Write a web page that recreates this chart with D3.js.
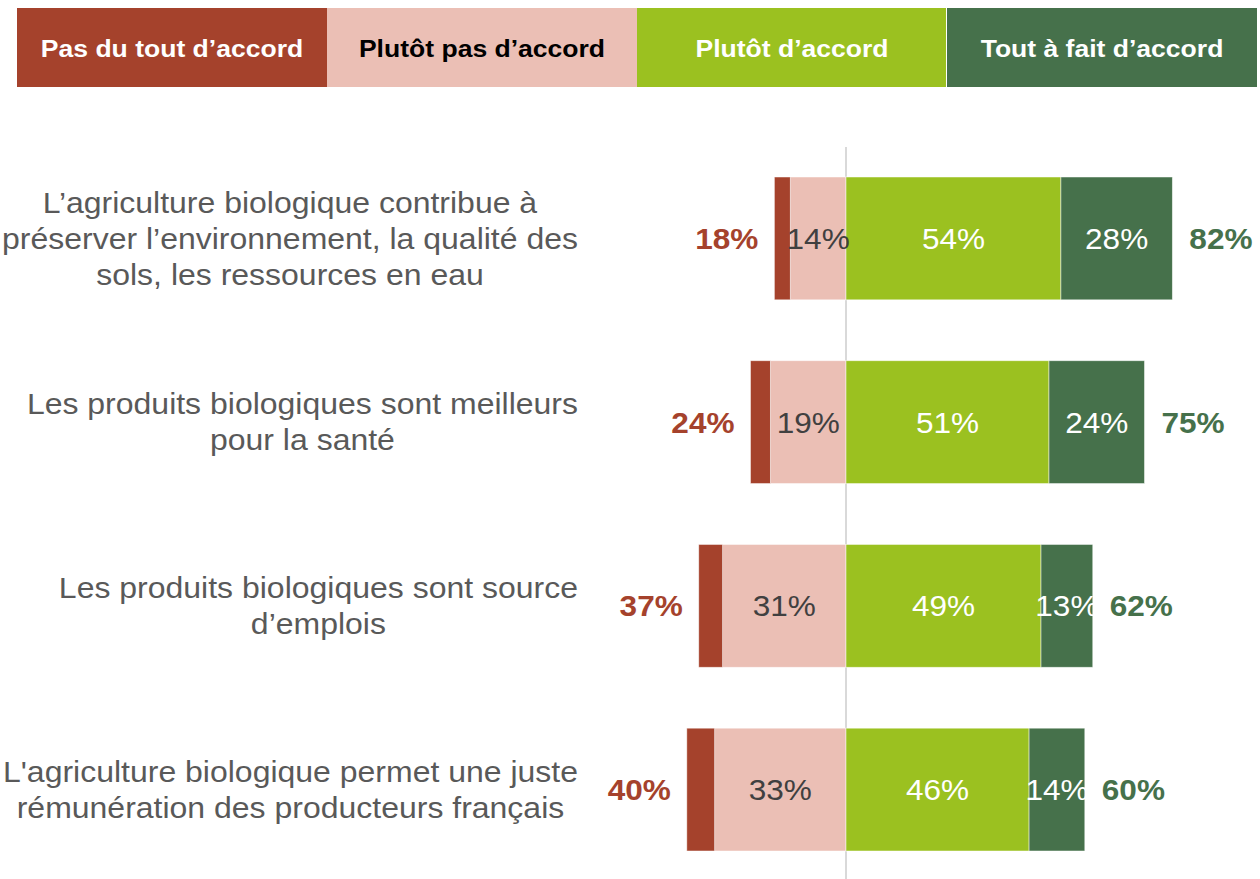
<!DOCTYPE html>
<html><head><meta charset="utf-8">
<script src="https://cdn.jsdelivr.net/npm/d3@7"></script>
<style>
html,body{margin:0;padding:0;background:#fff;}
svg{display:block;font-family:"Liberation Sans",Arial,sans-serif;}
</style></head>
<body>
<svg id="chart" width="1260" height="879"></svg>
<script>
// ---- data ----
const categories = [
  ["L’agriculture biologique contribue à", "préserver l’environnement, la qualité des", "sols, les ressources en eau"],
  ["Les produits biologiques sont meilleurs", "pour la santé"],
  ["Les produits biologiques sont source", "d’emplois"],
  ["L'agriculture biologique permet une juste", "rémunération des producteurs français"]
];
const pasDuTout     = [4, 5, 6, 7];
const plutotPas     = [14, 19, 31, 33];
const plutotAccord  = [54, 51, 49, 46];
const toutAFait     = [28, 24, 13, 14];
const totalDesaccord = [18, 24, 37, 40];
const totalAccord    = [82, 75, 62, 60];
const legendLabels = ["Pas du tout d’accord", "Plutôt pas d’accord", "Plutôt d’accord", "Tout à fait d’accord"];

// ---- styles ----
const colors = ["#A5422C", "#EBBFB5", "#9BC120", "#46714B"];
const legendText = ["#ffffff", "#000000", "#ffffff", "#ffffff"];
const segText = [null, "#404040", "#ffffff", "#ffffff"];
const SX = 1.07; // horizontal stretch of text seen in reference

const svg = d3.select("#chart");
const W = 1260, H = 879;
const place = (sel, fx, fy) => sel.attr("transform", (d, i) => `translate(${fx(d, i)},${fy(d, i)}) scale(${SX},1)`);

// scales
const x = d3.scaleLinear().domain([-50, 100]).range([846 - 199, 846 + 398]);
const idx = categories.map((d, i) => i);
const y = d3.scaleBand().domain(idx).range([177, 851]).paddingInner(0.3315).paddingOuter(0);

// legend
const lx = d3.scaleBand().domain(d3.range(4)).range([17, 1257]);
const leg = svg.append("g");
leg.selectAll("rect").data(legendLabels).join("rect")
  .attr("x", (d, i) => lx(i)).attr("y", 8)
  .attr("width", (d, i) => lx.bandwidth() - (i === 2 ? 1 : 0)).attr("height", 79)
  .attr("fill", (d, i) => colors[i]);
place(leg.selectAll("text").data(legendLabels).join("text"),
      (d, i) => lx(i) + lx.bandwidth() / 2, () => 48)
  .attr("text-anchor", "middle").attr("dominant-baseline", "central")
  .attr("font-size", 24.8).attr("font-weight", "bold")
  .attr("fill", (d, i) => legendText[i]).text(d => d);

// center line
svg.append("line").attr("x1", x(0)).attr("x2", x(0)).attr("y1", 147).attr("y2", H)
  .attr("stroke", "#d9d9d9").attr("stroke-width", 2);

// segments
const segs = [];
idx.forEach(i => {
  segs.push({i, k: 1, x0: -plutotPas[i], x1: 0, v: plutotPas[i]});
  segs.push({i, k: 0, x0: -plutotPas[i] - pasDuTout[i], x1: -plutotPas[i], v: pasDuTout[i]});
  segs.push({i, k: 2, x0: 0, x1: plutotAccord[i], v: plutotAccord[i]});
  segs.push({i, k: 3, x0: plutotAccord[i], x1: plutotAccord[i] + toutAFait[i], v: toutAFait[i]});
});
svg.append("g").selectAll("rect").data(segs).join("rect")
  .attr("x", d => x(d.x0)).attr("width", d => x(d.x1) - x(d.x0))
  .attr("y", d => y(d.i)).attr("height", y.bandwidth())
  .attr("fill", d => colors[d.k])
  .attr("stroke", "#ffffff").attr("stroke-opacity", 0.6).attr("stroke-width", 0.8);

place(svg.append("g").selectAll("text").data(segs.filter(d => d.k !== 0)).join("text"),
      d => (x(d.x0) + x(d.x1)) / 2, d => y(d.i) + y.bandwidth() / 2)
  .attr("text-anchor", "middle").attr("dominant-baseline", "central")
  .attr("font-size", 29.5).attr("fill", d => segText[d.k])
  .text(d => d.v + "%");

// totals
place(svg.append("g").selectAll("text").data(idx).join("text"),
      i => x(-totalDesaccord[i]) - 16, i => y(i) + y.bandwidth() / 2)
  .attr("text-anchor", "end").attr("dominant-baseline", "central")
  .attr("font-size", 29.5).attr("font-weight", "bold").attr("fill", colors[0])
  .text(i => totalDesaccord[i] + "%");
place(svg.append("g").selectAll("text").data(idx).join("text"),
      i => x(totalAccord[i]) + 17, i => y(i) + y.bandwidth() / 2)
  .attr("text-anchor", "start").attr("dominant-baseline", "central")
  .attr("font-size", 29.5).attr("font-weight", "bold").attr("fill", colors[3])
  .text(i => totalAccord[i] + "%");

// category labels
const lineH = 36, rightEdge = 578;
idx.forEach(i => {
  const lines = categories[i];
  const g = svg.append("g");
  const cy = y(i) + y.bandwidth() / 2;
  const ts = g.selectAll("text").data(lines).join("text")
    .attr("text-anchor", "middle").attr("dominant-baseline", "central")
    .attr("font-size", 29.9).attr("fill", "#595959").text(d => d);
  let maxW = 0;
  ts.each(function () { maxW = Math.max(maxW, this.getComputedTextLength() * SX); });
  place(ts, () => rightEdge - maxW / 2, (d, j) => cy + (j - (lines.length - 1) / 2) * lineH);
});
</script>
</body></html>
